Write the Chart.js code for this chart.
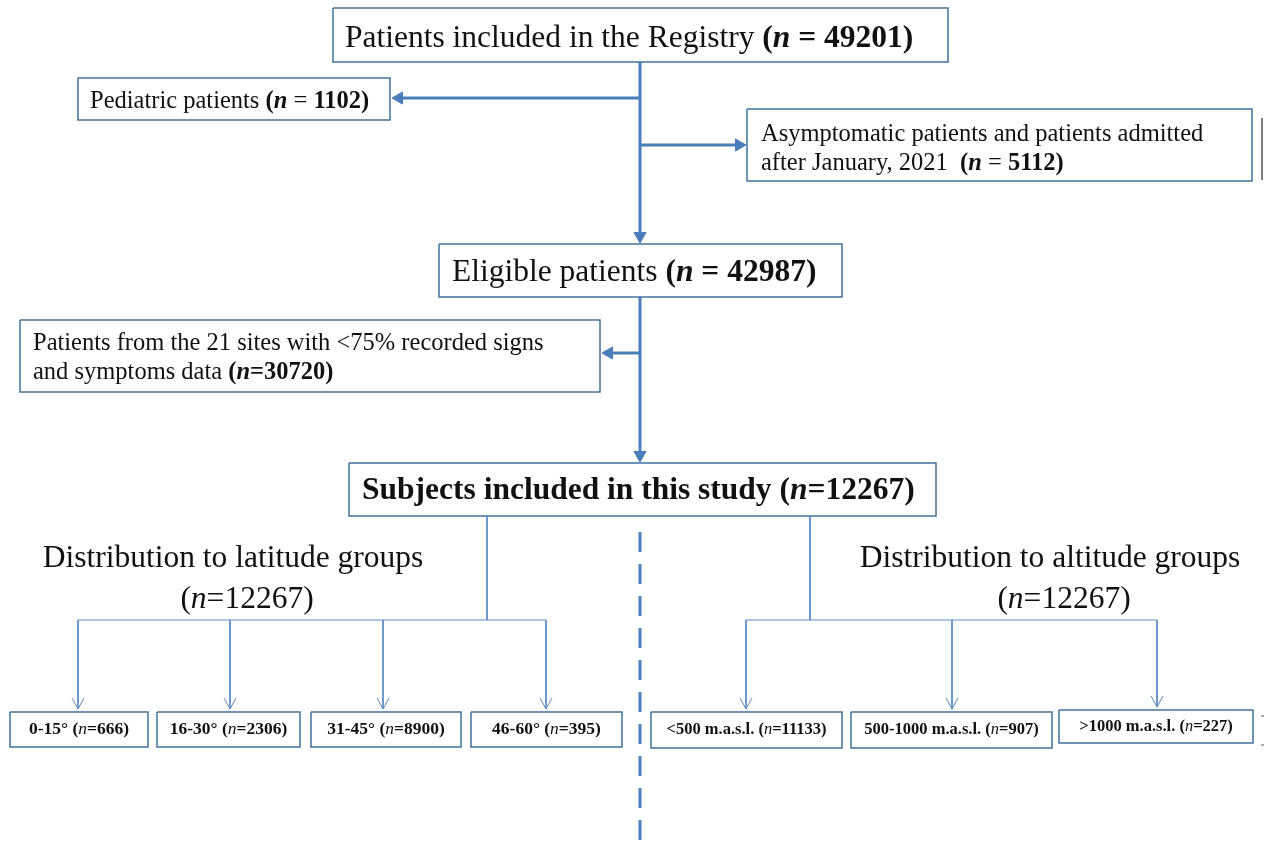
<!DOCTYPE html>
<html>
<head>
<meta charset="utf-8">
<script src="https://cdn.jsdelivr.net/npm/chart.js@4"></script>
<style>
  html, body { margin: 0; padding: 0; background: #fff; }
  canvas { display: block; }
</style>
</head>
<body>
<canvas id="flow" width="1264" height="843"></canvas>
<script>
// ---- data ----
const stageLabels = ['Patients included in the Registry', 'Eligible patients', 'Subjects included in this study'];
const stageCounts = [49201, 42987, 12267];

const exclusionLines = [
    ['Pediatric patients'],
    ['Asymptomatic patients and patients admitted', 'after January, 2021'],
    ['Patients from the 21 sites with <75% recorded signs', 'and symptoms data'],
];
const exclusionCounts = [1102, 5112, 30720];

const latitudeGroups = ['0-15°', '16-30°', '31-45°', '46-60°'];
const latitudeCounts = [666, 2306, 8900, 395];

const altitudeGroups = ['<500 m.a.s.l.', '500-1000 m.a.s.l.', '>1000 m.a.s.l.'];
const altitudeCounts = [11133, 907, 227];

const groupTitles = ['Distribution to latitude groups', 'Distribution to altitude groups'];

// ---- layout (diagram coordinates, same as pixels) ----
const W = 1264, H = 843;
const spineX = 640;
const colors = {
    arrow: '#4A7EBB',
    border: '#41719C',
    thin: '#5B8BC5',
    text: '#111',
};
const stageBoxes = [[333, 8, 948, 62], [439, 244, 842, 297], [349, 463, 936, 516]];
const stageTextAt = [[345, 39], [452, 273], [362, 491]];
const exclusionBoxes = [[78, 78, 390, 120], [747, 109, 1252, 181], [20, 320, 600, 392]];
const exclusionBranchY = [98, 145, 353];
const latBoxes = [[10, 712, 148, 747], [157, 712, 300, 747], [311, 712, 461, 747], [471, 712, 622, 747]];
const latDrops = [78, 230, 383, 546];
const altBoxes = [[651, 712, 842, 748], [851, 712, 1052, 748], [1059, 710, 1253, 743]];
const altDrops = [746, 952, 1157];
const busY = 620;

function seg(points, color, width, dash) {
    return {
        data: points.map(([x, y]) => ({ x, y })),
        showLine: true,
        borderColor: color,
        borderWidth: width,
        borderDash: dash || [],
        pointRadius: 0,
        fill: false,
        tension: 0,
        clip: false,
    };
}

function rect([x0, y0, x1, y1], color, width) {
    return seg([[x0, y0], [x1, y0], [x1, y1], [x0, y1], [x0, y0]], color, width);
}

function openArrow(x, y) {
    return seg([[x - 6, y - 11], [x, y], [x + 6, y - 11]], colors.thin, 1);
}

const datasets = [];

// thick spine with arrows
const r = 7;
const tips = [];
datasets.push(seg([[spineX, stageBoxes[0][3]], [spineX, stageBoxes[1][1] - r]], colors.arrow, 3));
tips.push({ x: spineX, y: stageBoxes[1][1] - 1 - r, rot: 180 });
datasets.push(seg([[spineX, stageBoxes[1][3]], [spineX, stageBoxes[2][1] - r]], colors.arrow, 3));
tips.push({ x: spineX, y: stageBoxes[2][1] - 1 - r, rot: 180 });

exclusionBoxes.forEach((b, i) => {
    const y = exclusionBranchY[i];
    const toLeft = b[2] < spineX;
    const edge = toLeft ? b[2] + 2 : b[0] - 1;
    const cx = toLeft ? edge + r : edge - r;
    datasets.push(seg([[spineX, y], [cx, y]], colors.arrow, 3));
    tips.push({ x: cx, y, rot: toLeft ? 270 : 90 });
});

datasets.push({
    data: tips.map(t => ({ x: t.x, y: t.y })),
    pointStyle: 'triangle',
    rotation: tips.map(t => t.rot),
    pointRadius: r,
    backgroundColor: colors.arrow,
    borderColor: colors.arrow,
    borderWidth: 1,
    showLine: false,
    clip: false,
});

// dashed divider
datasets.push(seg([[spineX, 532], [spineX, H]], colors.arrow, 3, [20, 12]));

// thin tree connectors
datasets.push(seg([[487, stageBoxes[2][3]], [487, busY]], colors.thin, 1));
datasets.push(seg([[latDrops[0], busY], [latDrops[latDrops.length - 1], busY]], colors.thin, 1));
latDrops.forEach(x => {
    datasets.push(seg([[x, busY], [x, 709]], colors.thin, 1));
    datasets.push(openArrow(x, 709));
});
datasets.push(seg([[810, stageBoxes[2][3]], [810, busY]], colors.thin, 1));
datasets.push(seg([[altDrops[0], busY], [altDrops[altDrops.length - 1], busY]], colors.thin, 1));
altDrops.forEach((x, i) => {
    const end = altBoxes[i][1] - 3;
    datasets.push(seg([[x, busY], [x, end]], colors.thin, 1));
    datasets.push(openArrow(x, end));
});

// boxes
stageBoxes.forEach(b => datasets.push(rect(b, colors.border, 1.5)));
exclusionBoxes.forEach(b => datasets.push(rect(b, colors.border, 1.5)));
latBoxes.forEach(b => datasets.push(rect(b, colors.border, 1.5)));
altBoxes.forEach(b => datasets.push(rect(b, colors.border, 1.5)));

// cut-off edges at the right border
datasets.push(seg([[1262, 118], [1262, 180]], '#555', 1.5));
datasets.push(seg([[1261, 716], [1264, 716]], '#555', 1));
datasets.push(seg([[1261, 745], [1264, 745]], '#555', 1));

// ---- text ----
const FONT = '"Liberation Serif", "Times New Roman", serif';

function font(run, size) {
    return `${run.i ? 'italic ' : ''}${run.b ? 'bold ' : ''}${size}px ${FONT}`;
}

function drawRuns(ctx, runs, x, y, size, align) {
    let total = 0;
    runs.forEach(run => {
        ctx.font = font(run, size);
        run.w = ctx.measureText(run.t).width;
        total += run.w;
    });
    let cx = align === 'left' ? x : x - total / 2;
    runs.forEach(run => {
        ctx.font = font(run, size);
        ctx.fillText(run.t, cx, y);
        cx += run.w;
    });
}

function countRuns(n, spaced, boldAll) {
    const eq = spaced ? ' = ' : '=';
    return [
        { t: '(', b: true },
        { t: 'n', b: true, i: true },
        { t: eq, b: boldAll },
        { t: n + ')', b: true },
    ];
}

const textPlugin = {
    id: 'flowText',
    afterDatasetsDraw(chart) {
        const { ctx } = chart;
        const px = v => chart.scales.x.getPixelForValue(v);
        const py = v => chart.scales.y.getPixelForValue(v);
        ctx.save();
        ctx.fillStyle = colors.text;
        ctx.textBaseline = 'middle';
        ctx.textAlign = 'left';

        stageLabels.forEach((label, i) => {
            const last = i === stageLabels.length - 1;
            const runs = [{ t: label + ' ', b: last }].concat(
                last
                    ? [{ t: '(', b: true }, { t: 'n', b: true, i: true }, { t: '=' + stageCounts[i] + ')', b: true }]
                    : countRuns(stageCounts[i], true, true)
            );
            drawRuns(ctx, runs, px(stageTextAt[i][0]), py(stageTextAt[i][1]), 31.5, 'left');
        });

        // pediatric
        drawRuns(ctx, [{ t: exclusionLines[0][0] + ' ' }].concat(countRuns(exclusionCounts[0], true, false)),
            px(90), py(102), 24.5, 'left');
        // asymptomatic
        drawRuns(ctx, [{ t: exclusionLines[1][0] }], px(761), py(135), 24.5, 'left');
        drawRuns(ctx, [{ t: exclusionLines[1][1] + '  ' }].concat(countRuns(exclusionCounts[1], true, false)),
            px(761), py(164), 24.5, 'left');
        // 21 sites
        drawRuns(ctx, [{ t: exclusionLines[2][0] }], px(33), py(344), 24.5, 'left');
        drawRuns(ctx, [{ t: exclusionLines[2][1] + ' ' }].concat(countRuns(exclusionCounts[2], false, true)),
            px(33), py(373), 24.5, 'left');

        // group titles
        const titleX = [[233, 247], [1050, 1064]];
        groupTitles.forEach((t, i) => {
            drawRuns(ctx, [{ t }], px(titleX[i][0]), py(559), 31.5, 'center');
            drawRuns(ctx, [{ t: '(' }, { t: 'n', i: true }, { t: '=' + stageCounts[2] + ')' }],
                px(titleX[i][1]), py(600), 31.5, 'center');
        });

        // leaf boxes
        const leaf = (label, n, b, size) => {
            const runs = [{ t: label + ' ', b: true }, { t: '(', b: true }, { t: 'n', i: true }, { t: '=' + n + ')', b: true }];
            drawRuns(ctx, runs, px((b[0] + b[2]) / 2), py((b[1] + b[3]) / 2), size, 'center');
        };
        latBoxes.forEach((b, i) => leaf(latitudeGroups[i], latitudeCounts[i], b, 17.5));
        altBoxes.forEach((b, i) => leaf(altitudeGroups[i], altitudeCounts[i], b, 16.5));

        ctx.restore();
    },
};

new Chart(document.getElementById('flow'), {
    type: 'scatter',
    data: { datasets },
    options: {
        responsive: false,
        animation: false,
        events: [],
        layout: { padding: 0, autoPadding: false },
        plugins: {
            legend: { display: false },
            tooltip: { enabled: false },
        },
        scales: {
            x: { type: 'linear', min: 0, max: W, display: false },
            y: { type: 'linear', min: 0, max: H, reverse: true, display: false },
        },
    },
    plugins: [textPlugin],
});
</script>
</body>
</html>
